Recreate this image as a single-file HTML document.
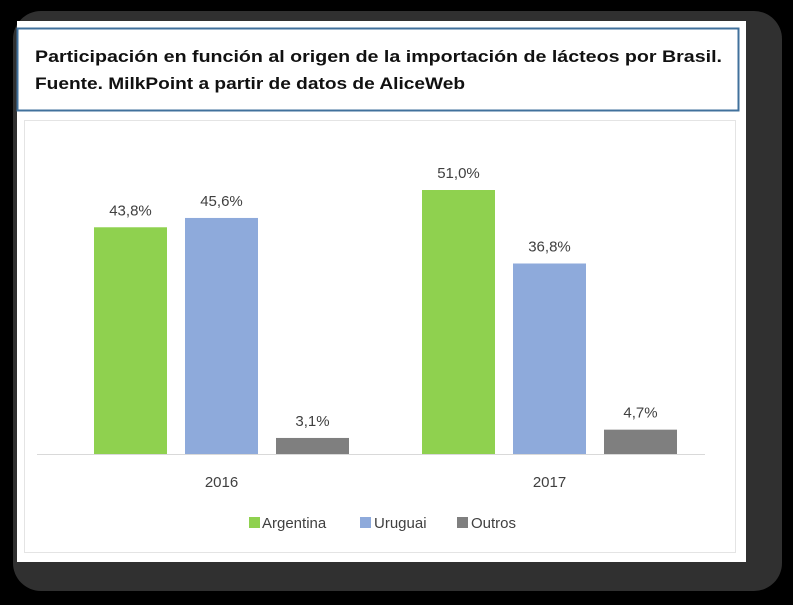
<!DOCTYPE html>
<html><head><meta charset="utf-8"><style>
body{margin:0;background:#000;width:793px;height:600px;overflow:hidden;font-family:"Liberation Sans",sans-serif}
</style></head><body>
<svg width="793" height="600" viewBox="0 0 793 600">
<rect x="0" y="0" width="793" height="600" fill="#000"/>
<rect x="13" y="11" width="769" height="580" rx="28" fill="#303030"/>
<rect x="17" y="21" width="729" height="541" fill="#fff"/>
<rect x="17.5" y="28.5" width="721" height="82" fill="#fff" stroke="#41719c" stroke-width="2"/>
<text x="35" y="62" font-size="17" font-weight="bold" fill="#111" textLength="687" lengthAdjust="spacingAndGlyphs">Participación en función al origen de la importación de lácteos por Brasil.</text>
<text x="35" y="89" font-size="17" font-weight="bold" fill="#111" textLength="430" lengthAdjust="spacingAndGlyphs">Fuente. MilkPoint a partir de datos de AliceWeb</text>
<rect x="24.5" y="120.5" width="711" height="432" fill="#fff" stroke="#e4e4e4"/>
<g id="bars"></g>
<line x1="37" y1="454.5" x2="705" y2="454.5" stroke="#d9d9d9"/>
<g>
<rect x="249" y="517" width="11" height="11" fill="#8fd14f"/>
<text x="262" y="528" font-size="15" fill="#404040">Argentina</text>
<rect x="360" y="517" width="11" height="11" fill="#8eaadb"/>
<text x="374" y="528" font-size="15" fill="#404040">Uruguai</text>
<rect x="457" y="517" width="11" height="11" fill="#7f7f7f"/>
<text x="471" y="528" font-size="15" fill="#404040">Outros</text>
</g>
</svg>
<script>
const categories = ["2016","2017"];
const seriesNames = ["Argentina","Uruguai","Outros"];
const argentina = [43.8, 51.0];
const uruguai = [45.6, 36.8];
const outros = [3.1, 4.7];
const valueLabels = [["43,8%","45,6%","3,1%"],["51,0%","36,8%","4,7%"]];
const series=[argentina,uruguai,outros];
const colors=["#8fd14f","#8eaadb","#7f7f7f"];
const base=454, scale=264/51;
const y=v=>base-v*scale;
const groupX=[94,422], step=91, bw=73;
const g=document.getElementById('bars');
const NS="http://www.w3.org/2000/svg";
categories.forEach((c,ci)=>{
  series.forEach((s,si)=>{
    const x=groupX[ci]+si*step;
    const r=document.createElementNS(NS,'rect');
    r.setAttribute('x',x);r.setAttribute('y',y(s[ci]));r.setAttribute('width',bw);r.setAttribute('height',base-y(s[ci]));r.setAttribute('fill',colors[si]);
    
    
    g.appendChild(r);
    const t=document.createElementNS(NS,'text');
    t.setAttribute('x',x+bw/2);t.setAttribute('y',y(s[ci])-12);t.setAttribute('text-anchor','middle');t.setAttribute('font-size','15');t.setAttribute('fill','#404040');
    t.textContent=valueLabels[ci][si];
    
    
    g.appendChild(t);
  });
  const ct=document.createElementNS(NS,'text');
  ct.setAttribute('x',groupX[ci]+step+bw/2);ct.setAttribute('y',487);ct.setAttribute('text-anchor','middle');ct.setAttribute('font-size','15');ct.setAttribute('fill','#404040');
  ct.textContent=c;
  
  
  g.appendChild(ct);
});
</script>
</body></html>
